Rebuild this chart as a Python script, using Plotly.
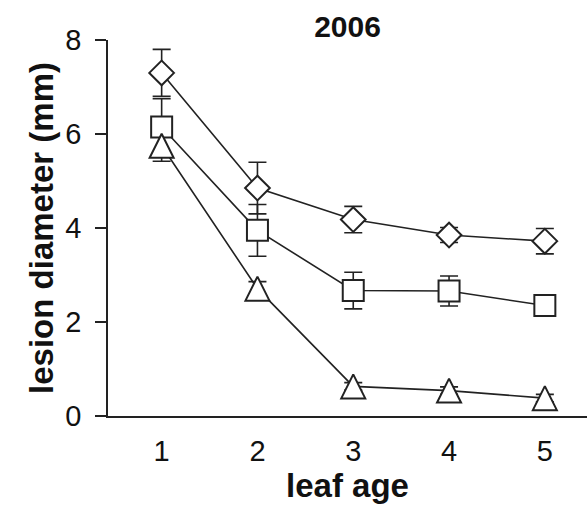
import plotly.graph_objects as go

# leaf age categories
leaf_age = [1, 2, 3, 4, 5]

# mean lesion diameter (mm) and standard errors for the three treatments
diamond_mean = [7.30, 4.85, 4.18, 3.85, 3.72]
diamond_err = [0.50, 0.55, 0.28, 0.16, 0.27]

square_mean = [6.15, 3.95, 2.67, 2.66, 2.35]
square_err = [0.60, 0.55, 0.39, 0.32, 0.08]

triangle_mean = [5.75, 2.71, 0.63, 0.54, 0.38]
triangle_err = [0.33, 0.15, 0.08, 0.08, 0.08]

y_ticks = [0, 2, 4, 6, 8]

INK = "#222222"
FONT = "Liberation Sans, Arial, sans-serif"

series = [
    (diamond_mean, diamond_err, dict(symbol="diamond", size=19)),
    (square_mean, square_err, dict(symbol="square", size=21)),
    # arrow-down rotated half a turn with a standoff of half its size gives an
    # upward triangle centred on the point, as tall as it is wide
    (triangle_mean, triangle_err, dict(symbol="arrow-down", size=24, angle=180, standoff=12)),
]

fig = go.Figure()

# error bars underneath everything
for mean, err, _ in series:
    fig.add_trace(go.Scatter(
        x=leaf_age, y=mean, mode="markers",
        marker=dict(size=1, opacity=0),
        error_y=dict(type="data", array=err, visible=True,
                     color=INK, thickness=1.6, width=9),
        showlegend=False, hoverinfo="skip", cliponaxis=False,
    ))

# connecting lines
for mean, _, _ in series:
    fig.add_trace(go.Scatter(
        x=leaf_age, y=mean, mode="lines",
        line=dict(color=INK, width=1.6),
        showlegend=False, cliponaxis=False,
    ))

# open markers on top
for mean, _, mk in series:
    fig.add_trace(go.Scatter(
        x=leaf_age, y=mean, mode="markers",
        marker=dict(color="white", line=dict(color=INK, width=2), **mk),
        showlegend=False, cliponaxis=False,
    ))

fig.update_layout(
    width=587, height=511,
    margin=dict(l=108, r=0, t=40, b=95),
    paper_bgcolor="white", plot_bgcolor="white",
    font=dict(family=FONT, color="#111111"),
    title=dict(text="<b>2006</b>", x=0.5, xref="paper", xanchor="center",
               y=1 - 26 / 511, yref="container", yanchor="middle",
               font=dict(size=30, family=FONT, color="#111111")),
)

fig.update_xaxes(
    range=[0.44, 5.44], tickvals=leaf_age,
    showline=True, linecolor=INK, linewidth=1.5,
    ticks="", showgrid=False, zeroline=False,
    tickfont=dict(size=29), ticklabelstandoff=8,
    title=dict(text="<b>leaf age</b>", font=dict(size=33), standoff=2),
)

fig.update_yaxes(
    range=[0, 8], tickvals=y_ticks,
    showline=True, linecolor=INK, linewidth=1.5,
    ticks="outside", ticklen=11, tickwidth=1.5, tickcolor=INK,
    showgrid=False, zeroline=False,
    tickfont=dict(size=29), ticklabelstandoff=8,
    title=dict(text="<b>lesion diameter (mm)</b>", font=dict(size=33), standoff=2),
)

fig.write_html("out.html")
